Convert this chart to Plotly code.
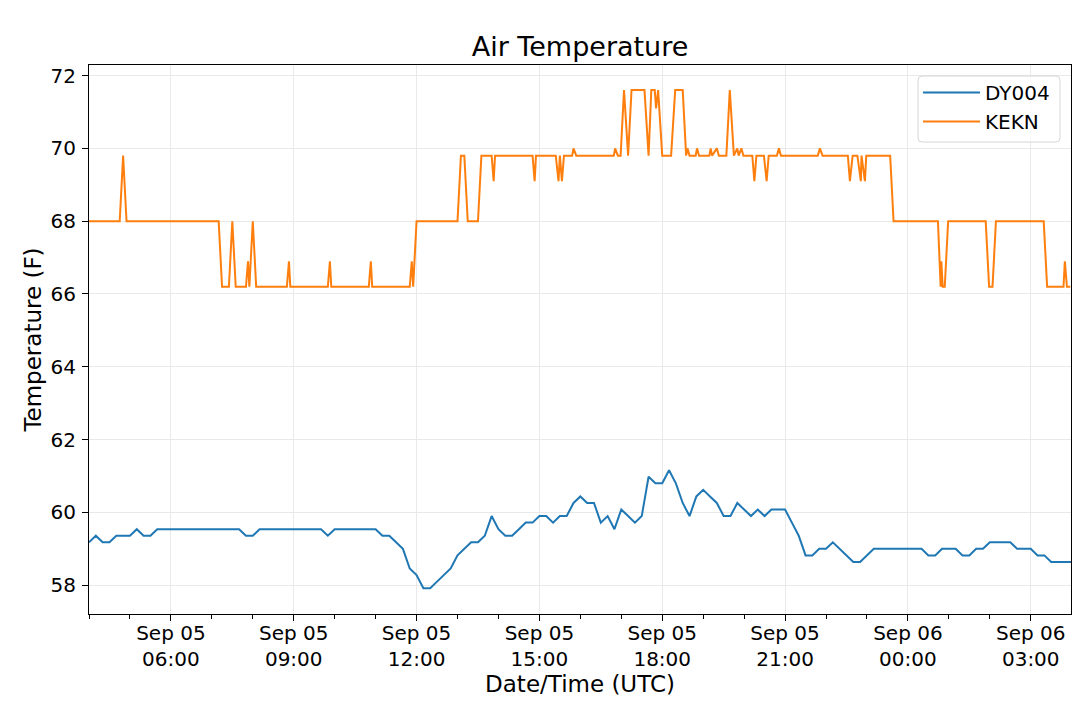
import pandas as pd
import plotly.graph_objects as go

# DY004: 10-minute samples starting 2019-09-05 04:00 UTC (deg F)
dy004_start = "2019-09-05 04:00"
dy004_temp = [
    59.18, 59.36, 59.18, 59.18, 59.36, 59.36, 59.36, 59.54, 59.36, 59.36,
    59.54, 59.54, 59.54, 59.54, 59.54, 59.54, 59.54, 59.54, 59.54, 59.54,
    59.54, 59.54, 59.54, 59.36, 59.36, 59.54, 59.54, 59.54, 59.54, 59.54,
    59.54, 59.54, 59.54, 59.54, 59.54, 59.36, 59.54, 59.54, 59.54, 59.54,
    59.54, 59.54, 59.54, 59.36, 59.36, 59.18, 59.00, 58.46, 58.28, 57.92,
    57.92, 58.10, 58.28, 58.46, 58.82, 59.00, 59.18, 59.18, 59.36, 59.90,
    59.54, 59.36, 59.36, 59.54, 59.72, 59.72, 59.90, 59.90, 59.72, 59.90,
    59.90, 60.26, 60.44, 60.26, 60.26, 59.72, 59.90, 59.54, 60.08, 59.90,
    59.72, 59.90, 60.98, 60.80, 60.80, 61.16, 60.80, 60.26, 59.90, 60.44,
    60.62, 60.44, 60.26, 59.90, 59.90, 60.26, 60.08, 59.90, 60.08, 59.90,
    60.08, 60.08, 60.08, 59.72, 59.36, 58.82, 58.82, 59.00, 59.00, 59.18,
    59.00, 58.82, 58.64, 58.64, 58.82, 59.00, 59.00, 59.00, 59.00, 59.00,
    59.00, 59.00, 59.00, 58.82, 58.82, 59.00, 59.00, 59.00, 58.82, 58.82,
    59.00, 59.00, 59.18, 59.18, 59.18, 59.18, 59.00, 59.00, 59.00, 58.82,
    58.82, 58.64, 58.64, 58.64, 58.64,
]

# KEKN observations (day hh:mm in Sep 2019, UTC)
kekn_time = [
    "05 04:00", "05 04:45", "05 04:50", "05 04:55", "05 07:10", "05 07:15",
    "05 07:25", "05 07:30", "05 07:35", "05 07:50", "05 07:53", "05 07:55",
    "05 08:00", "05 08:05", "05 08:50", "05 08:53", "05 08:55", "05 09:50",
    "05 09:53", "05 09:55", "05 10:50", "05 10:53", "05 10:55", "05 11:50",
    "05 11:53", "05 11:55", "05 12:00", "05 13:00", "05 13:05", "05 13:10",
    "05 13:15", "05 13:30", "05 13:35", "05 13:50", "05 13:53", "05 13:55",
    "05 14:50", "05 14:53", "05 14:55", "05 15:24", "05 15:28", "05 15:30",
    "05 15:33", "05 15:36", "05 15:48", "05 15:50", "05 15:54", "05 16:49",
    "05 16:51", "05 16:55", "05 16:59", "05 17:04", "05 17:10", "05 17:15",
    "05 17:34", "05 17:40", "05 17:44", "05 17:49", "05 17:51", "05 17:54",
    "05 18:00", "05 18:13", "05 18:19", "05 18:30", "05 18:35", "05 18:37",
    "05 18:40", "05 18:49", "05 18:51", "05 18:54", "05 19:09", "05 19:11",
    "05 19:13", "05 19:20", "05 19:23", "05 19:34", "05 19:39", "05 19:45",
    "05 19:50", "05 19:52", "05 19:56", "05 19:59", "05 20:12", "05 20:15",
    "05 20:18", "05 20:29", "05 20:33", "05 20:36", "05 20:48", "05 20:51",
    "05 20:54", "05 21:48", "05 21:51", "05 21:55", "05 22:32", "05 22:35",
    "05 22:39", "05 22:46", "05 22:51", "05 22:52", "05 22:57", "05 22:59",
    "05 23:34", "05 23:39", "06 00:44", "06 00:48", "06 00:49", "06 00:51",
    "06 00:54", "06 00:59", "06 01:54", "06 01:59", "06 02:04", "06 02:09",
    "06 03:19", "06 03:24", "06 03:48", "06 03:50", "06 03:53", "06 03:58",
]
kekn_temp = [
    68.0, 68.0, 69.8, 68.0, 68.0, 66.2,
    66.2, 68.0, 66.2, 66.2, 66.9, 66.2,
    68.0, 66.2, 66.2, 66.9, 66.2, 66.2,
    66.9, 66.2, 66.2, 66.9, 66.2, 66.2,
    66.9, 66.2, 68.0, 68.0, 69.8, 69.8,
    68.0, 68.0, 69.8, 69.8, 69.1, 69.8,
    69.8, 69.1, 69.8, 69.8, 69.1, 69.8,
    69.1, 69.8, 69.8, 70.0, 69.8, 69.8,
    70.0, 69.8, 69.8, 71.6, 69.8, 71.6,
    71.6, 69.8, 71.6, 71.6, 71.1, 71.6,
    69.8, 69.8, 71.6, 71.6, 69.8, 70.0,
    69.8, 69.8, 70.0, 69.8, 69.8, 70.0,
    69.8, 70.0, 69.8, 69.8, 71.6, 69.8,
    70.0, 69.8, 70.0, 69.8, 69.8, 69.1,
    69.8, 69.8, 69.1, 69.8, 69.8, 70.0,
    69.8, 69.8, 70.0, 69.8, 69.8, 69.1,
    69.8, 69.8, 69.1, 69.8, 69.1, 69.8,
    69.8, 68.0, 68.0, 66.2, 66.9, 66.2,
    66.2, 68.0, 68.0, 66.2, 66.2, 68.0,
    68.0, 66.2, 66.2, 66.9, 66.2, 66.2,
]

tick_times = ["2019-09-05 06:00", "2019-09-05 09:00", "2019-09-05 12:00",
              "2019-09-05 15:00", "2019-09-05 18:00", "2019-09-05 21:00",
              "2019-09-06 00:00", "2019-09-06 03:00"]
tick_labels = ["Sep 05<br>06:00", "Sep 05<br>09:00", "Sep 05<br>12:00",
               "Sep 05<br>15:00", "Sep 05<br>18:00", "Sep 05<br>21:00",
               "Sep 06<br>00:00", "Sep 06<br>03:00"]

dy004_x = pd.date_range(dy004_start, periods=len(dy004_temp), freq="10min")
kekn_x = pd.to_datetime(["2019-09-" + t for t in kekn_time])

fig = go.Figure()
fig.add_trace(go.Scatter(x=dy004_x, y=dy004_temp, name="DY004", mode="lines",
                         legendgroup="a", line=dict(color="#1f77b4", width=2)))
fig.add_trace(go.Scatter(x=kekn_x, y=kekn_temp, name="KEKN", mode="lines",
                         legendgroup="b", line=dict(color="#ff7f0e", width=2)))

axis_common = dict(showline=True, linecolor="black", linewidth=1, mirror=True,
                   ticks="outside", ticklen=6, tickwidth=1, tickcolor="black",
                   showgrid=True, gridcolor="#e9e9e9", gridwidth=1,
                   zeroline=False, tickfont=dict(size=20), automargin=False)

# the page body adds an 8px offset, so the plot area is set 8px up/left
OFF = 8
L, R, T, B = 89 - OFF, 1071 - OFF, 65 - OFF, 614 - OFF
def px(x):
    return (x - OFF - L) / (R - L)
def py(y):
    return (B - (y - OFF)) / (B - T)

# rounded legend frame (screen pixels 918..1060 x 76..142)
x0, x1, y0, y1 = px(918), px(1060), py(142), py(76)
rx, ry = 4 / (R - L), 4 / (B - T)
frame = (f"M {x0 + rx},{y0} L {x1 - rx},{y0} Q {x1},{y0} {x1},{y0 + ry} "
         f"L {x1},{y1 - ry} Q {x1},{y1} {x1 - rx},{y1} L {x0 + rx},{y1} "
         f"Q {x0},{y1} {x0},{y1 - ry} L {x0},{y0 + ry} Q {x0},{y0} {x0 + rx},{y0} Z")

fig.update_layout(
    width=1080, height=714,
    margin=dict(l=L, r=1080 - R, t=T, b=714 - B, autoexpand=False),
    paper_bgcolor="white", plot_bgcolor="white",
    font=dict(family="DejaVu Sans", size=20, color="black"),
    title=dict(text="Air Temperature", x=0.5, xref="paper", xanchor="center",
               y=1 - (47 - OFF) / 714, yref="container", yanchor="middle",
               font=dict(size=27), automargin=False),
    shapes=[dict(type="path", path=frame, xref="paper", yref="paper",
                 line=dict(color="#d6d6d6", width=1),
                 fillcolor="rgba(255,255,255,0.8)", layer="above")],
    legend=dict(x=px(918), y=py(73), xanchor="left", yanchor="top",
                bgcolor="rgba(0,0,0,0)", borderwidth=0, itemwidth=57,
                tracegroupgap=0, font=dict(size=20)),
    xaxis=dict(type="date", range=["2019-09-05 04:00", "2019-09-06 03:59"],
               tickmode="array", tickvals=tick_times, ticktext=tick_labels,
               ticklabelstandoff=-5,
               minor=dict(ticks="outside", ticklen=3.5, tickcolor="black",
                          dtick=3600000, tick0="2019-09-05 04:00",
                          showgrid=False),
               title=dict(text="Date/Time (UTC)", font=dict(size=23), standoff=4),
               **axis_common),
    yaxis=dict(range=[57.21, 72.29], tick0=58, dtick=2, ticklabelstandoff=2,
               title=dict(text="Temperature (F)", font=dict(size=23), standoff=2),
               **axis_common),
)

fig.write_html("out.html")
